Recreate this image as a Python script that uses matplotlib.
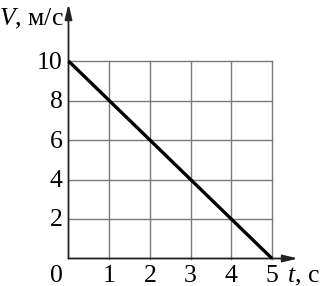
import matplotlib
matplotlib.use("Agg")
import matplotlib.pyplot as plt

t_vals = [0, 5]
v_vals = [10, 0]
x_ticks = [1, 2, 3, 4, 5]
y_ticks = [2, 4, 6, 8, 10]

plt.rcParams['font.family'] = ['Liberation Serif', 'DejaVu Serif']
plt.rcParams['mathtext.fontset'] = 'custom'
plt.rcParams['mathtext.it'] = 'Liberation Serif:italic'
plt.rcParams['mathtext.rm'] = 'Liberation Serif'

W, H = 325, 286
fig = plt.figure(figsize=(W/100, H/100), dpi=100)
ax = fig.add_axes([0, 0, 1, 1])
ox, oy = 68.5, 258.5
sx, sy = 40.7, 19.75
ax.set_xlim(-ox/sx, (W-ox)/sx)
ax.set_ylim(-(H-oy)/sy, oy/sy)
ax.axis('off')

grid_c = '#7a7a7a'
for xt in x_ticks:
    ax.plot([xt, xt], [0, max(y_ticks)], color=grid_c, lw=1.0, zorder=1)
for yt in y_ticks:
    ax.plot([0, max(x_ticks)], [yt, yt], color=grid_c, lw=1.0, zorder=1)

ax.plot(t_vals, v_vals, color='black', lw=2.4, zorder=3, solid_capstyle='butt')

axis_c = '#222222'
ax.annotate('', xy=((298-ox)/sx, 0), xytext=(0, 0),
            arrowprops=dict(arrowstyle='-|>,head_length=0.9,head_width=0.22', color=axis_c, lw=1.3, shrinkA=0, shrinkB=0), zorder=2)
ax.annotate('', xy=(0, (oy-4)/sy), xytext=(0, 0),
            arrowprops=dict(arrowstyle='-|>,head_length=0.9,head_width=0.22', color=axis_c, lw=1.3, shrinkA=0, shrinkB=0), zorder=2)

fs = 18.5
for yt in y_ticks:
    ax.text(-6/sx, yt - 1.5/sy, str(yt), ha='right', va='center', fontsize=fs)
for xt in x_ticks:
    ax.text(xt, -18/sy, str(xt), ha='center', va='center', fontsize=fs)
ax.text((56-ox)/sx, -18/sy, '0', ha='center', va='center', fontsize=fs)

ax.text(-5/sx, (oy-19)/sy, '$V$, м/с', ha='right', va='center', fontsize=fs)
ax.text((287-ox)/sx, -18/sy, '$t$, с', ha='left', va='center', fontsize=fs)

fig.savefig('out.png', dpi=100)
